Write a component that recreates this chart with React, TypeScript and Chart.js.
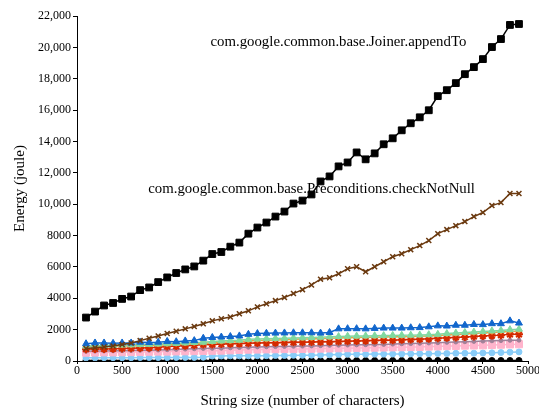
import React, { useEffect, useRef } from "react";
import { Chart, registerables } from "chart.js";

Chart.register(...registerables);

const stringSizes = [
  100, 200, 300, 400, 500, 600, 700, 800, 900,
  1000, 1100, 1200, 1300, 1400, 1500, 1600, 1700, 1800, 1900,
  2000, 2100, 2200, 2300, 2400, 2500, 2600, 2700, 2800, 2900,
  3000, 3100, 3200, 3300, 3400, 3500, 3600, 3700, 3800, 3900,
  4000, 4100, 4200, 4300, 4400, 4500, 4600, 4700, 4800, 4900,
];

const joinerAppendTo = [
  2770, 3150, 3540, 3700, 3960, 4110, 4520, 4690, 5030,
  5330, 5610, 5840, 6030, 6400, 6820, 6950, 7290, 7550, 8120,
  8510, 8830, 9210, 9530, 10040, 10230, 10620, 11450, 11770, 12410,
  12660, 13300, 12860, 13240, 13820, 14200, 14710, 15160, 15540, 15990,
  16890, 17270, 17720, 18290, 18740, 19250, 20020, 20530, 21430, 21490,
];

const checkNotNull = [
  800, 850, 900, 950, 1050, 1150, 1300, 1450, 1600,
  1750, 1900, 2050, 2200, 2370, 2560, 2690, 2810, 3010, 3200,
  3450, 3650, 3850, 4050, 4300, 4550, 4850, 5220, 5310, 5560,
  5880, 6010, 5690, 6010, 6330, 6650, 6840, 7100, 7360, 7680,
  8120, 8380, 8630, 8890, 9210, 9470, 9910, 10100, 10680, 10680,
];

const blueSeries = [
  1100, 1150, 1150, 1130, 1150, 1150, 1200, 1180, 1200,
  1250, 1230, 1280, 1300, 1450, 1500, 1530, 1560, 1600, 1700,
  1750, 1770, 1780, 1790, 1800, 1800, 1800, 1780, 1820, 2050,
  2060, 2060, 2050, 2080, 2100, 2100, 2100, 2120, 2130, 2180,
  2240, 2230, 2280, 2280, 2330, 2320, 2380, 2380, 2560, 2420,
];

const greenSeries = [
  950, 980, 1000, 1000, 1020, 1030, 1050, 1060, 1080,
  1100, 1120, 1150, 1180, 1200, 1250, 1280, 1300, 1330, 1380,
  1400, 1420, 1440, 1450, 1470, 1480, 1500, 1520, 1540, 1560,
  1580, 1590, 1600, 1610, 1620, 1630, 1640, 1650, 1660, 1680,
  1700, 1750, 1780, 1820, 1850, 1880, 1920, 1950, 2000, 2030,
];

const orangeSeries = [
  900, 920, 930, 940, 950, 960, 980, 1000, 1010,
  1030, 1050, 1080, 1100, 1120, 1160, 1190, 1210, 1240, 1280,
  1300, 1320, 1340, 1360, 1380, 1400, 1410, 1430, 1450, 1470,
  1490, 1500, 1510, 1520, 1530, 1540, 1550, 1560, 1580, 1600,
  1620, 1660, 1690, 1720, 1750, 1780, 1810, 1850, 1880, 1900,
];

const redSeries = [
  750, 760, 770, 780, 800, 810, 830, 850, 880,
  920, 950, 980, 1000, 1050, 1060, 1080, 1100, 1110, 1130,
  1150, 1160, 1170, 1180, 1190, 1200, 1210, 1220, 1230, 1240,
  1260, 1280, 1290, 1300, 1320, 1330, 1350, 1370, 1390, 1420,
  1450, 1480, 1500, 1530, 1560, 1600, 1620, 1650, 1700, 1700,
];

const purpleSeries = [
  620, 630, 640, 650, 660, 670, 680, 690, 700,
  720, 740, 760, 780, 800, 810, 820, 840, 860, 880,
  900, 910, 920, 930, 940, 950, 960, 980, 1000, 1010,
  1020, 1030, 1040, 1050, 1060, 1080, 1100, 1110, 1130, 1150,
  1170, 1190, 1210, 1230, 1250, 1270, 1290, 1300, 1320, 1330,
];

const pinkSeries = [
  530, 540, 550, 550, 560, 570, 580, 590, 600,
  600, 610, 620, 630, 640, 650, 660, 680, 700, 720,
  730, 740, 750, 760, 760, 770, 780, 790, 800, 810,
  820, 830, 840, 850, 860, 870, 880, 890, 900, 920,
  930, 950, 960, 980, 990, 1000, 1020, 1040, 1060, 1070,
];

const lightBlueSeries = [
  200, 200, 210, 210, 210, 210, 220, 220, 220,
  220, 230, 230, 230, 240, 320, 320, 330, 330, 330,
  340, 340, 350, 350, 360, 360, 370, 380, 400, 420,
  430, 430, 430, 440, 440, 450, 450, 460, 470, 470,
  480, 480, 490, 490, 500, 510, 520, 540, 560, 580,
];

const blackCircleSeries = [
  30, 30, 30, 30, 30, 30, 30, 30, 30,
  30, 30, 30, 30, 30, 30, 30, 30, 30, 30,
  30, 30, 30, 30, 30, 30, 30, 30, 30, 30,
  30, 30, 30, 30, 30, 30, 30, 30, 30, 30,
  30, 30, 30, 30, 30, 30, 30, 30, 30, 30,
];

const yTicks = [0, 2000, 4000, 6000, 8000, 10000, 12000, 14000, 16000, 18000, 20000, 22000];
const yTickLabels = ["0", "2000", "4000", "6000", "8000", "10,000", "12,000", "14,000", "16,000", "18,000", "20,000", "22,000"];
const xTicks = [0, 500, 1000, 1500, 2000, 2500, 3000, 3500, 4000, 4500, 5000];
const xTickLabels = ["0", "500", "1000", "1500", "2000", "2500", "3000", "3500", "4000", "4500", "5000"];

const annotations = [
  { text: "com.google.common.base.Joiner.appendTo", x: 1480, y: 20340 },
  { text: "com.google.common.base.Preconditions.checkNotNull", x: 790, y: 10940 },
];

const FONT = "'Liberation Serif', 'Times New Roman', serif";

function pts(ys: number[]) {
  return stringSizes.map((x, i) => ({ x, y: ys[i] }));
}

export default function App() {
  const ref = useRef<HTMLCanvasElement | null>(null);
  useEffect(() => {
    if (!ref.current) return;
    const mk = (data: number[], color: string, style: any, radius: number, extra: any = {}) => ({
      data: pts(data),
      borderColor: color,
      backgroundColor: color,
      pointStyle: style,
      pointRadius: radius,
      pointBorderColor: color,
      pointBackgroundColor: color,
      borderWidth: 1.5,
      pointBorderWidth: 1,
      tension: 0,
      ...extra,
    });
    const textPlugin = {
      id: "labels",
      afterDatasetsDraw(chart: any) {
        const ctx = chart.ctx;
        const xs = chart.scales.x;
        const ys = chart.scales.y;
        ctx.save();
        ctx.font = `14.8px ${FONT}`;
        ctx.fillStyle = "#000";
        ctx.textAlign = "left";
        ctx.textBaseline = "middle";
        for (const a of annotations) {
          ctx.fillText(a.text, xs.getPixelForValue(a.x), ys.getPixelForValue(a.y));
        }
        ctx.restore();
      },
    };
    const chart = new Chart(ref.current, {
      type: "line",
      data: {
        datasets: [
          mk(joinerAppendTo, "#000000", "rect", 4.8),
          mk(checkNotNull, "#6b3a10", "crossRot", 3.5, { pointBorderWidth: 1.5 }),
          mk(blueSeries, "#1166cc", "triangle", 4),
          mk(greenSeries, "#80d8a0", "triangle", 4),
          mk(orangeSeries, "#f0a040", "circle", 1.5),
          mk(redSeries, "#d42a00", "star", 4, { pointBorderWidth: 2 }),
          mk(purpleSeries, "#a08098", "circle", 2),
          mk(pinkSeries, "#ffb4cc", "rect", 5),
          mk(lightBlueSeries, "#88ccf8", "circle", 3),
          mk(blackCircleSeries, "#000000", "circle", 3),
        ],
      },
      options: {
        animation: false,
        responsive: false,
        layout: { padding: { top: 16, right: 11, left: 0, bottom: 0 } },
        plugins: { legend: { display: false }, tooltip: { enabled: false } },
        scales: {
          x: {
            type: "linear",
            min: 0,
            max: 5000,
            afterBuildTicks: (s: any) => {
              s.ticks = xTicks.map((v) => ({ value: v }));
            },
            afterFit: (s: any) => {
              s.height = 49;
              s.paddingLeft = 0;
              s.paddingRight = 0;
            },
            ticks: {
              color: "#000",
              font: { family: FONT, size: 12 },
              maxRotation: 0,
              padding: 0,
              callback: (v: any) => xTickLabels[xTicks.indexOf(Number(v))] ?? "",
            },
            grid: { display: true, drawOnChartArea: false, color: "#000", tickLength: 3 },
            border: { display: true, color: "#000", width: 1 },
            title: {
              display: true,
              text: "String size (number of characters)",
              color: "#000",
              font: { family: FONT, size: 15 },
              padding: { top: 0, bottom: 0 },
            },
          },
          y: {
            type: "linear",
            min: 0,
            max: 22000,
            afterBuildTicks: (s: any) => {
              s.ticks = yTicks.map((v) => ({ value: v }));
            },
            afterFit: (s: any) => {
              s.width = 77;
              s.paddingTop = 0;
              s.paddingBottom = 0;
            },
            ticks: {
              color: "#000",
              font: { family: FONT, size: 12 },
              padding: 2,
              callback: (v: any) => yTickLabels[yTicks.indexOf(Number(v))] ?? "",
            },
            grid: { display: true, drawOnChartArea: false, color: "#000", tickLength: 4 },
            border: { display: true, color: "#000", width: 1 },
            title: {
              display: true,
              text: "Energy (joule)",
              color: "#000",
              font: { family: FONT, size: 15 },
              padding: { top: 11, bottom: 0 },
            },
          },
        },
      },
      plugins: [textPlugin],
    } as any);
    return () => chart.destroy();
  }, []);
  return (
    <div style={{ position: "absolute", left: 0, top: 0, width: 539, height: 410, background: "#fff" }}>
      <canvas ref={ref} width={539} height={410} />
    </div>
  );
}
